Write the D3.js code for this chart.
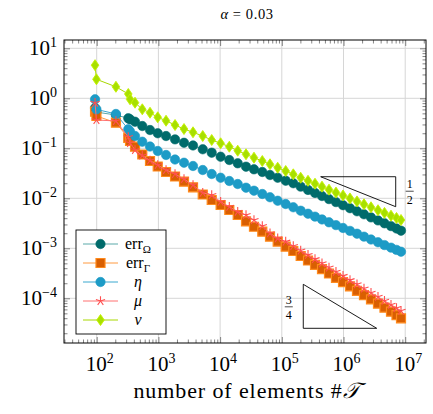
<!DOCTYPE html>
<html><head><meta charset="utf-8">
<script src="https://cdn.jsdelivr.net/npm/d3@7"></script>
<style>body{margin:0;background:#fff} text{font-family:"Liberation Serif","DejaVu Serif",serif}</style>
</head><body><svg id="c" width="433" height="414"></svg>
<script>
// ---------- data ----------
const elements = [94, 99, 205, 325, 347, 418, 548, 731, 975, 1330, 1860, 2600, 3640, 5230, 7310, 10200, 14100, 19300, 26300, 35400, 48300, 64400, 85800, 115600, 153500, 202300, 265900, 345200, 448000, 582000, 755000, 982000, 1274000, 1654000, 2148000, 2790000, 3622000, 4616000, 5884000, 7225000, 8550000];
const errOmega = [0.64, 0.53, 0.463, 0.398, 0.38, 0.34, 0.279, 0.232, 0.2, 0.176, 0.151, 0.129, 0.114, 0.0955, 0.0817, 0.0679, 0.0583, 0.0501, 0.0429, 0.038, 0.0336, 0.0292, 0.0258, 0.0225, 0.02, 0.0171, 0.0147, 0.0128, 0.0111, 0.00964, 0.0084, 0.00728, 0.00634, 0.0055, 0.00479, 0.00415, 0.00361, 0.00316, 0.00278, 0.00249, 0.00225];
const errGamma = [0.54, 0.443, 0.325, 0.161, 0.14, 0.1076, 0.0752, 0.0557, 0.0433, 0.0336, 0.0273, 0.0215, 0.0166, 0.0119, 0.00925, 0.00735, 0.00583, 0.00463, 0.00344, 0.0027, 0.00215, 0.00171, 0.00136, 0.00108, 0.000883, 0.000702, 0.00057, 0.000468, 0.000384, 0.000313, 0.000257, 0.000211, 0.000173, 0.000141, 0.000116, 0.0000951, 0.000078, 0.0000649, 0.000054, 0.0000461, 0.0000398];
const eta = [0.955, 0.6, 0.486, 0.24, 0.217, 0.176, 0.1355, 0.1086, 0.0883, 0.0735, 0.0597, 0.0515, 0.0443, 0.0368, 0.0306, 0.0258, 0.0222, 0.0193, 0.0163, 0.0142, 0.0122, 0.0105, 0.00895, 0.00769, 0.00661, 0.00565, 0.00492, 0.0043, 0.00378, 0.00331, 0.00291, 0.00255, 0.00223, 0.00196, 0.00171, 0.0015, 0.00132, 0.00116, 0.00103, 0.00093, 0.000855];
const mu = [0.817, 0.368, 0.352, 0.168, 0.128, 0.0925, 0.0718, 0.057, 0.0463, 0.0368, 0.0306, 0.0243, 0.0185, 0.0129, 0.0116, 0.00855, 0.00679, 0.0054, 0.00463, 0.00368, 0.00279, 0.002, 0.00158, 0.00136, 0.00111, 0.000904, 0.000738, 0.000608, 0.000501, 0.000413, 0.00034, 0.000281, 0.000231, 0.000191, 0.000157, 0.000129, 0.000107, 0.0000891, 0.0000745, 0.000064, 0.0000565];
const nu = [4.6, 2.4, 1.7, 1.22, 0.955, 0.817, 0.603, 0.515, 0.417, 0.356, 0.292, 0.243, 0.209, 0.176, 0.1466, 0.126, 0.1076, 0.0895, 0.0759, 0.0649, 0.0557, 0.0479, 0.0409, 0.0352, 0.0302, 0.0258, 0.0224, 0.0196, 0.0171, 0.0149, 0.013, 0.0114, 0.00995, 0.00867, 0.00759, 0.00661, 0.00578, 0.0051, 0.00449, 0.00404, 0.00368];
const xTickExp = [2, 3, 4, 5, 6, 7];
const yTickExp = [1, 0, -1, -2, -3, -4];
const triangleHalf = [[426600, 0.0270], [7015000, 0.0270], [7015000, 0.00679]];
const triangleThreeQuarter = [[222800, 1.905e-4], [222800, 2.512e-5], [3451000, 2.512e-5]];
const titleText = "0.03";
const xLabelText = "number of elements #";

// ---------- layout ----------
const L = 64, R = 426, T = 40, B = 343;
const svg = d3.select('#c');
const x = d3.scaleLog().domain([Math.pow(10, 1.47), Math.pow(10, 7.337)]).range([L, R]);
const y = d3.scaleLog().domain([Math.pow(10, -4.894), Math.pow(10, 1.166)]).range([B, T]);
const xMajor = xTickExp.map(e => Math.pow(10, e));
const yMajor = yTickExp.map(e => Math.pow(10, e));

// grid
const grid = svg.append('g').attr('stroke', '#d6d6d6').attr('stroke-width', 1);
grid.selectAll('.gx').data(xMajor).join('line').attr('class','gx')
  .attr('x1', d => x(d)).attr('x2', d => x(d)).attr('y1', T).attr('y2', B);
grid.selectAll('.gy').data(yMajor).join('line').attr('class','gy')
  .attr('y1', d => y(d)).attr('y2', d => y(d)).attr('x1', L).attr('x2', R);

// ticks (minor + major) on all four sides, pointing inward
const xMinor = x.ticks().filter(v => !xMajor.some(m => Math.abs(m - v) / m < 1e-9));
const yMinor = y.ticks().filter(v => !yMajor.some(m => Math.abs(m - v) / m < 1e-9));
function ax(gen, vals, len, tx, ty) {
  const g = svg.append('g').attr('transform', `translate(${tx},${ty})`)
    .call(gen.tickValues(vals).tickSizeInner(-len).tickSizeOuter(0).tickFormat(''));
  g.select('.domain').remove();
  g.selectAll('line').attr('stroke', '#666').attr('stroke-width', 0.8);
}
ax(d3.axisBottom(x), xMinor, 3.5, 0, B);
ax(d3.axisTop(x), xMinor, 3.5, 0, T);
ax(d3.axisBottom(x), xMajor, 6, 0, B);
ax(d3.axisTop(x), xMajor, 6, 0, T);
ax(d3.axisLeft(y), yMinor, 3.5, L, 0);
ax(d3.axisRight(y), yMinor, 3.5, R, 0);
ax(d3.axisLeft(y), yMajor, 6, L, 0);
ax(d3.axisRight(y), yMajor, 6, R, 0);

// tick labels
function expLabel(sel, e) {
  sel.append('tspan').text('10');
  sel.append('tspan').attr('dy', -8).attr('font-size', 14).text(String(e).replace('-', '\u2212'));
}
xTickExp.forEach(e => {
  const t = svg.append('text').attr('x', x(Math.pow(10, e)) + 3).attr('y', 371)
    .attr('text-anchor', 'middle').attr('font-size', 21);
  expLabel(t, e);
});
yTickExp.forEach(e => {
  const t = svg.append('text').attr('x', 57).attr('y', y(Math.pow(10, e)) + 7)
    .attr('text-anchor', 'end').attr('font-size', 21);
  expLabel(t, e);
});

// series
const series = [
  {name: 'errOmega', vals: errOmega, mark: 'circle', fill: '#006b6b', stroke: '#006b6b', line: '#5aa9a9'},
  {name: 'errGamma', vals: errGamma, mark: 'square', fill: '#d95f02', stroke: '#ff8a1c', line: '#ff9a40'},
  {name: 'eta', vals: eta, mark: 'circle', fill: '#1d9bc6', stroke: '#1d9bc6', line: '#3aa8cf'},
  {name: 'mu', vals: mu, mark: 'star', fill: 'none', stroke: '#ff4f4f', line: '#ff7070'},
  {name: 'nu', vals: nu, mark: 'diamond', fill: '#a8e000', stroke: '#c6f200', line: '#a8d800'},
];
svg.append('clipPath').attr('id', 'clp').append('rect')
  .attr('x', L).attr('y', T).attr('width', R - L).attr('height', B - T);

function markPath(type) {
  if (type === 'square') return 'M-4.5,-4.5H4.5V4.5H-4.5Z';
  if (type === 'diamond') return 'M0,-5.5L3.8,0L0,5.5L-3.8,0Z';
  if (type === 'star') {
    let p = '';
    for (let k = 0; k < 5; k++) {
      const a = -Math.PI / 2 + k * 2 * Math.PI / 5;
      p += `M0,0L${(4.8 * Math.cos(a)).toFixed(2)},${(4.8 * Math.sin(a)).toFixed(2)}`;
    }
    return p;
  }
  return null;
}
function drawMark(g, s, cx, cy) {
  if (s.mark === 'circle') {
    g.append('circle').attr('cx', cx).attr('cy', cy).attr('r', 4.7)
      .attr('fill', s.fill).attr('stroke', s.stroke).attr('stroke-width', 0.6);
  } else {
    g.append('path').attr('d', markPath(s.mark)).attr('transform', `translate(${cx},${cy})`)
      .attr('fill', s.fill).attr('stroke', s.stroke)
      .attr('stroke-width', s.mark === 'star' ? 1.1 : (s.mark === 'square' ? 1.2 : 0.9));
  }
}
const lineGen = d3.line().x(d => x(d[0])).y(d => y(d[1]));
series.forEach(s => {
  const pts = elements.map((e, i) => [e, s.vals[i]]);
  const g = svg.append('g').attr('clip-path', 'url(#clp)');
  g.append('path').attr('d', lineGen(pts)).attr('fill', 'none').attr('stroke', s.line).attr('stroke-width', 1);
  pts.forEach(p => drawMark(g, s, x(p[0]), y(p[1])));
});

// slope triangles
[triangleHalf, triangleThreeQuarter].forEach(tri => {
  svg.append('path').attr('d', lineGen(tri) + 'Z').attr('fill', 'none')
    .attr('stroke', '#000').attr('stroke-width', 0.9);
});
function frac(cx, cy, num, den) {
  const g = svg.append('g').attr('font-size', 12).attr('text-anchor', 'middle');
  g.append('text').attr('x', cx).attr('y', cy - 3).text(num);
  g.append('line').attr('x1', cx - 4).attr('x2', cx + 4).attr('y1', cy).attr('y2', cy).attr('stroke', '#000').attr('stroke-width', 0.7);
  g.append('text').attr('x', cx).attr('y', cy + 12.5).text(den);
}
frac(x(triangleHalf[1][0]) + 14, (y(triangleHalf[1][1]) + y(triangleHalf[2][1])) / 2 - 0.5, '1', '2');
frac(x(triangleThreeQuarter[0][0]) - 14.5, (y(triangleThreeQuarter[0][1]) + y(triangleThreeQuarter[1][1])) / 2 + 0.5, '3', '4');

// frame
svg.append('rect').attr('x', L).attr('y', T).attr('width', R - L).attr('height', B - T)
  .attr('fill', 'none').attr('stroke', '#000').attr('stroke-width', 1);

// legend
const lg = svg.append('g');
lg.append('rect').attr('x', 76).attr('y', 230).attr('width', 90).attr('height', 104)
  .attr('fill', '#fff').attr('stroke', '#000').attr('stroke-width', 0.9);
const legendY = [244, 263, 282, 301, 320];
const legendLabels = [['err', '\u03A9'], ['err', '\u0393'], ['\u03B7'], ['\u03BC'], ['\u03BD']];
series.forEach((s, i) => {
  const yy = legendY[i];
  lg.append('line').attr('x1', 83).attr('x2', 118).attr('y1', yy).attr('y2', yy).attr('stroke', s.line).attr('stroke-width', 1);
  drawMark(lg, s, 100.5, yy);
  const t = lg.append('text').attr('x', 138).attr('y', yy + 5).attr('text-anchor', 'middle')
    .attr('font-size', 16);
  const lab = legendLabels[i];
  if (lab.length === 2) {
    t.append('tspan').text(lab[0]);
    t.append('tspan').attr('dy', 4).attr('font-size', 11).text(lab[1]);
  } else {
    t.append('tspan').attr('font-style', 'italic').text(lab[0]);
  }
});

// title
const tt = svg.append('text').attr('x', 247).attr('y', 19).attr('text-anchor', 'middle')
  .attr('font-size', 14.5).attr('letter-spacing', 0.6);
tt.append('tspan').attr('font-style', 'italic').text('\u03B1');
tt.append('tspan').text(' = ' + titleText);

// x axis label
const xl = svg.append('text').attr('x', 247).attr('y', 398).attr('text-anchor', 'middle')
  .attr('font-size', 22).attr('letter-spacing', 0.9);
xl.append('tspan').text(xLabelText);
xl.append('tspan').attr('font-style', 'italic').text('\uD835\uDCAF');
</script>
</body></html>
